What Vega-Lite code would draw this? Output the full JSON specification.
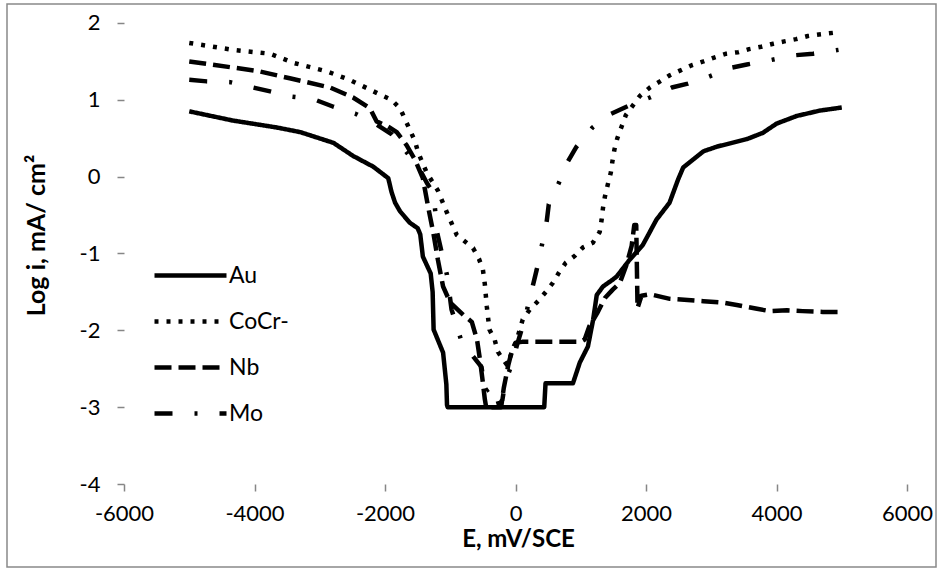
{
  "$schema": "https://vega.github.io/schema/vega-lite/v6.json",
  "width": 929,
  "height": 563,
  "autosize": {"type": "none"},
  "padding": {"left": 7, "top": 4, "right": 4, "bottom": 2},
  "background": "white",
  "config": {
    "font": "Lato",
    "view": {"stroke": "#898989", "strokeWidth": 1.5},
    "axis": {"grid": false, "domain": false, "tickColor": "#868686", "tickWidth": 1.5, "tickSize": 7, "labelFont": "Lato", "labelFontSize": 22, "labelColor": "#000000", "titleFont": "Lato", "titleFontSize": 24, "titleFontWeight": "bold", "titleColor": "#000000", "labelExpr": "'' + datum.value"}
  },
  "datasets": {
    "curves": [
      {"s":"Au","E":-5000,"L":0.85},{"s":"Au","E":-4330,"L":0.73},{"s":"Au","E":-3660,"L":0.64},{"s":"Au","E":-3300,"L":0.58},{"s":"Au","E":-2790,"L":0.44},{"s":"Au","E":-2490,"L":0.27},{"s":"Au","E":-2180,"L":0.13},{"s":"Au","E":-1950,"L":-0.02},{"s":"Au","E":-1900,"L":-0.2},{"s":"Au","E":-1845,"L":-0.34},{"s":"Au","E":-1770,"L":-0.45},{"s":"Au","E":-1620,"L":-0.6},{"s":"Au","E":-1500,"L":-0.67},{"s":"Au","E":-1460,"L":-0.75},{"s":"Au","E":-1420,"L":-1.04},{"s":"Au","E":-1300,"L":-1.26},{"s":"Au","E":-1270,"L":-1.5},{"s":"Au","E":-1255,"L":-1.99},{"s":"Au","E":-1110,"L":-2.29},{"s":"Au","E":-1060,"L":-2.7},{"s":"Au","E":-1050,"L":-2.97},{"s":"Au","E":-1040,"L":-3.0},{"s":"Au","E":440,"L":-3.0},{"s":"Au","E":460,"L":-2.69},{"s":"Au","E":880,"L":-2.69},{"s":"Au","E":985,"L":-2.42},{"s":"Au","E":1110,"L":-2.21},{"s":"Au","E":1190,"L":-1.86},{"s":"Au","E":1245,"L":-1.54},{"s":"Au","E":1340,"L":-1.43},{"s":"Au","E":1490,"L":-1.34},{"s":"Au","E":1550,"L":-1.3},{"s":"Au","E":1750,"L":-1.08},{"s":"Au","E":1950,"L":-0.89},{"s":"Au","E":2160,"L":-0.56},{"s":"Au","E":2360,"L":-0.34},{"s":"Au","E":2490,"L":-0.04},{"s":"Au","E":2570,"L":0.12},{"s":"Au","E":2880,"L":0.33},{"s":"Au","E":3085,"L":0.39},{"s":"Au","E":3550,"L":0.49},{"s":"Au","E":3790,"L":0.57},{"s":"Au","E":4000,"L":0.69},{"s":"Au","E":4310,"L":0.79},{"s":"Au","E":4665,"L":0.86},{"s":"Au","E":5000,"L":0.9},

      {"s":"CoCr-","E":-5000,"L":1.74},{"s":"CoCr-","E":-4330,"L":1.65},{"s":"CoCr-","E":-3760,"L":1.6},{"s":"CoCr-","E":-3400,"L":1.48},{"s":"CoCr-","E":-2890,"L":1.37},{"s":"CoCr-","E":-2540,"L":1.26},{"s":"CoCr-","E":-2080,"L":1.07},{"s":"CoCr-","E":-1900,"L":1.0},{"s":"CoCr-","E":-1770,"L":0.89},{"s":"CoCr-","E":-1620,"L":0.61},{"s":"CoCr-","E":-1540,"L":0.46},{"s":"CoCr-","E":-1490,"L":0.31},{"s":"CoCr-","E":-1360,"L":0.05},{"s":"CoCr-","E":-1190,"L":-0.18},{"s":"CoCr-","E":-1050,"L":-0.47},{"s":"CoCr-","E":-900,"L":-0.76},{"s":"CoCr-","E":-650,"L":-0.93},{"s":"CoCr-","E":-560,"L":-1.07},{"s":"CoCr-","E":-500,"L":-1.21},{"s":"CoCr-","E":-470,"L":-1.4},{"s":"CoCr-","E":-440,"L":-1.69},{"s":"CoCr-","E":-420,"L":-1.84},{"s":"CoCr-","E":-400,"L":-1.99},{"s":"CoCr-","E":-320,"L":-2.12},{"s":"CoCr-","E":-270,"L":-2.28},{"s":"CoCr-","E":-190,"L":-2.38},{"s":"CoCr-","E":-130,"L":-2.45},{"s":"CoCr-","E":-70,"L":-2.32},{"s":"CoCr-","E":0,"L":-2.18},{"s":"CoCr-","E":110,"L":-1.86},{"s":"CoCr-","E":220,"L":-1.73},{"s":"CoCr-","E":345,"L":-1.62},{"s":"CoCr-","E":465,"L":-1.5},{"s":"CoCr-","E":575,"L":-1.38},{"s":"CoCr-","E":665,"L":-1.25},{"s":"CoCr-","E":770,"L":-1.12},{"s":"CoCr-","E":910,"L":-1.03},{"s":"CoCr-","E":1035,"L":-0.92},{"s":"CoCr-","E":1185,"L":-0.86},{"s":"CoCr-","E":1290,"L":-0.72},{"s":"CoCr-","E":1320,"L":-0.56},{"s":"CoCr-","E":1340,"L":-0.41},{"s":"CoCr-","E":1370,"L":-0.26},{"s":"CoCr-","E":1415,"L":-0.1},{"s":"CoCr-","E":1460,"L":0.05},{"s":"CoCr-","E":1485,"L":0.2},{"s":"CoCr-","E":1515,"L":0.35},{"s":"CoCr-","E":1560,"L":0.5},{"s":"CoCr-","E":1625,"L":0.65},{"s":"CoCr-","E":1690,"L":0.8},{"s":"CoCr-","E":1905,"L":1.05},{"s":"CoCr-","E":2060,"L":1.16},{"s":"CoCr-","E":2215,"L":1.24},{"s":"CoCr-","E":2365,"L":1.32},{"s":"CoCr-","E":2520,"L":1.38},{"s":"CoCr-","E":2700,"L":1.45},{"s":"CoCr-","E":2880,"L":1.5},{"s":"CoCr-","E":3045,"L":1.55},{"s":"CoCr-","E":3230,"L":1.6},{"s":"CoCr-","E":3415,"L":1.62},{"s":"CoCr-","E":3580,"L":1.66},{"s":"CoCr-","E":3765,"L":1.69},{"s":"CoCr-","E":3950,"L":1.73},{"s":"CoCr-","E":4120,"L":1.76},{"s":"CoCr-","E":4300,"L":1.79},{"s":"CoCr-","E":4480,"L":1.83},{"s":"CoCr-","E":4650,"L":1.85},{"s":"CoCr-","E":4950,"L":1.88},

      {"s":"Nb","E":-5000,"L":1.5},{"s":"Nb","E":-4330,"L":1.42},{"s":"Nb","E":-3920,"L":1.37},{"s":"Nb","E":-3460,"L":1.28},{"s":"Nb","E":-2840,"L":1.16},{"s":"Nb","E":-2490,"L":1.03},{"s":"Nb","E":-2230,"L":0.89},{"s":"Nb","E":-2130,"L":0.72},{"s":"Nb","E":-1970,"L":0.66},{"s":"Nb","E":-1820,"L":0.58},{"s":"Nb","E":-1670,"L":0.41},{"s":"Nb","E":-1540,"L":0.22},{"s":"Nb","E":-1420,"L":-0.02},{"s":"Nb","E":-1340,"L":-0.39},{"s":"Nb","E":-1260,"L":-0.73},{"s":"Nb","E":-1190,"L":-1.08},{"s":"Nb","E":-1110,"L":-1.43},{"s":"Nb","E":-1000,"L":-1.64},{"s":"Nb","E":-800,"L":-1.8},{"s":"Nb","E":-670,"L":-1.89},{"s":"Nb","E":-590,"L":-2.12},{"s":"Nb","E":-545,"L":-2.38},{"s":"Nb","E":-500,"L":-2.68},{"s":"Nb","E":-470,"L":-2.9},{"s":"Nb","E":-450,"L":-3.0},{"s":"Nb","E":-220,"L":-3.0},{"s":"Nb","E":-180,"L":-2.75},{"s":"Nb","E":-110,"L":-2.45},{"s":"Nb","E":-50,"L":-2.25},{"s":"Nb","E":0,"L":-2.16},{"s":"Nb","E":100,"L":-2.15},{"s":"Nb","E":1000,"L":-2.15},{"s":"Nb","E":1060,"L":-2.12},{"s":"Nb","E":1130,"L":-1.95},{"s":"Nb","E":1250,"L":-1.78},{"s":"Nb","E":1370,"L":-1.58},{"s":"Nb","E":1490,"L":-1.47},{"s":"Nb","E":1600,"L":-1.38},{"s":"Nb","E":1700,"L":-1.15},{"s":"Nb","E":1780,"L":-0.9},{"s":"Nb","E":1820,"L":-0.63},{"s":"Nb","E":1850,"L":-0.63},{"s":"Nb","E":1870,"L":-1.71},{"s":"Nb","E":1930,"L":-1.55},{"s":"Nb","E":2060,"L":-1.53},{"s":"Nb","E":2365,"L":-1.59},{"s":"Nb","E":2880,"L":-1.62},{"s":"Nb","E":3180,"L":-1.64},{"s":"Nb","E":3390,"L":-1.67},{"s":"Nb","E":3700,"L":-1.72},{"s":"Nb","E":3900,"L":-1.75},{"s":"Nb","E":4160,"L":-1.74},{"s":"Nb","E":4400,"L":-1.75},{"s":"Nb","E":4710,"L":-1.76},{"s":"Nb","E":5000,"L":-1.76},

      {"s":"Mo","E":-5000,"L":1.26},{"s":"Mo","E":-4730,"L":1.24},{"s":"Mo","E":-4375,"L":1.23},{"s":"Mo","E":-4070,"L":1.17},{"s":"Mo","E":-3760,"L":1.11},{"s":"Mo","E":-3420,"L":1.04},{"s":"Mo","E":-3100,"L":1.01},{"s":"Mo","E":-2790,"L":0.91},{"s":"Mo","E":-2455,"L":0.82},{"s":"Mo","E":-2150,"L":0.69},{"s":"Mo","E":-1895,"L":0.55},{"s":"Mo","E":-1770,"L":0.44},{"s":"Mo","E":-1620,"L":0.26},{"s":"Mo","E":-1465,"L":0.09},{"s":"Mo","E":-1360,"L":-0.08},{"s":"Mo","E":-1260,"L":-0.21},{"s":"Mo","E":-1230,"L":-0.45},{"s":"Mo","E":-1200,"L":-0.73},{"s":"Mo","E":-1130,"L":-0.99},{"s":"Mo","E":-1050,"L":-1.28},{"s":"Mo","E":-980,"L":-1.73},{"s":"Mo","E":-840,"L":-2.11},{"s":"Mo","E":-650,"L":-2.34},{"s":"Mo","E":-520,"L":-2.48},{"s":"Mo","E":-470,"L":-2.8},{"s":"Mo","E":-340,"L":-2.72},{"s":"Mo","E":-250,"L":-2.98},{"s":"Mo","E":-200,"L":-2.9},{"s":"Mo","E":-160,"L":-2.68},{"s":"Mo","E":-60,"L":-2.45},{"s":"Mo","E":20,"L":-2.2},{"s":"Mo","E":140,"L":-1.86},{"s":"Mo","E":265,"L":-1.42},{"s":"Mo","E":325,"L":-1.21},{"s":"Mo","E":400,"L":-0.91},{"s":"Mo","E":480,"L":-0.57},{"s":"Mo","E":510,"L":-0.36},{"s":"Mo","E":665,"L":-0.08},{"s":"Mo","E":805,"L":0.2},{"s":"Mo","E":935,"L":0.39},{"s":"Mo","E":1180,"L":0.64},{"s":"Mo","E":1445,"L":0.81},{"s":"Mo","E":1600,"L":0.87},{"s":"Mo","E":1780,"L":0.94},{"s":"Mo","E":2060,"L":1.03},{"s":"Mo","E":2395,"L":1.16},{"s":"Mo","E":2640,"L":1.21},{"s":"Mo","E":2960,"L":1.3},{"s":"Mo","E":3315,"L":1.42},{"s":"Mo","E":3545,"L":1.46},{"s":"Mo","E":3925,"L":1.52},{"s":"Mo","E":4280,"L":1.58},{"s":"Mo","E":4560,"L":1.6},{"s":"Mo","E":4950,"L":1.65}
    ]
  },
  "layer": [
    {
      "data": {"name": "curves"},
      "mark": {"type": "line", "strokeWidth": 4.5, "color": "#000000", "strokeJoin": "round", "clip": false},
      "encoding": {
        "x": {
          "field": "E", "type": "quantitative",
          "scale": {"domain": [-7793, 6444], "nice": false, "zero": false},
          "axis": {"values": [-6000, -4000, -2000, 0, 2000, 4000, 6000], "offset": -83, "labelPadding": 12, "title": "E, mV/SCE", "titleX": 511, "titleY": 62, "titleBaseline": "alphabetic", "titleAlign": "center"}
        },
        "y": {
          "field": "L", "type": "quantitative",
          "scale": {"domain": [-5.08, 2.247], "nice": false, "zero": false},
          "axis": {"values": [-4, -3, -2, -1, 0, 1, 2], "offset": -117, "labelPadding": 17, "title": "Log i, mA/ cm²", "titleX": -80, "titleY": 231, "titleBaseline": "alphabetic", "titleAngle": -90, "titleAlign": "center", "titleFontSize": 25}
        },
        "strokeDash": {
          "field": "s", "type": "nominal",
          "scale": {"domain": ["Au", "CoCr-", "Nb", "Mo"], "range": [[1, 0], [4, 8], [17, 7], [18, 22, 3, 22]]},
          "legend": {"orient": "none", "legendX": 163, "legendY": 251, "title": null, "padding": 0, "symbolType": "M-2,0H2", "symbolSize": 1296, "symbolStrokeWidth": 4.5, "symbolStrokeColor": "#000000", "symbolFillColor": "transparent", "labelFont": "Lato", "labelFontSize": 23, "labelColor": "#000000", "labelOffset": 18, "rowPadding": 13}
        }
      }
    },
    {
      "mark": {"type": "rule", "color": "#868686", "strokeWidth": 1.5},
      "encoding": {"x": {"datum": -6000}, "x2": {"datum": 6000}, "y": {"datum": -4}}
    },
    {
      "mark": {"type": "rule", "color": "#868686", "strokeWidth": 1.5},
      "encoding": {"x": {"datum": -6000}, "y": {"datum": -4}, "y2": {"datum": 2}}
    }
  ]
}
